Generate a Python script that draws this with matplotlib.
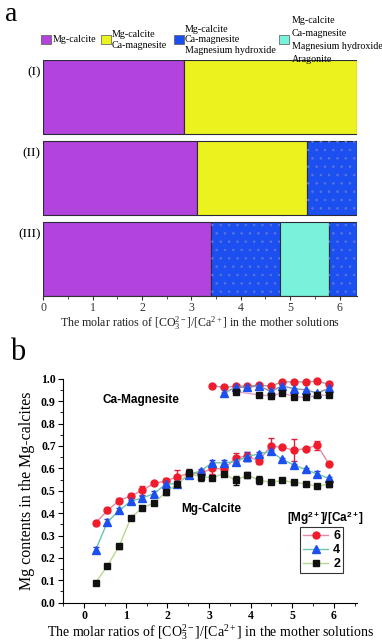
import numpy as np
import matplotlib.pyplot as plt
from matplotlib.patches import Rectangle
from matplotlib.ticker import MultipleLocator

plt.rcParams['font.family'] = ['Liberation Serif', 'DejaVu Serif']
plt.rcParams['mathtext.fontset'] = 'custom'
plt.rcParams['mathtext.rm'] = 'Liberation Serif'
plt.rcParams['mathtext.it'] = 'Liberation Serif:italic'
plt.rcParams['mathtext.bf'] = 'Liberation Sans:bold'
plt.rcParams['hatch.linewidth'] = 0.6

# ---- panel a data ----
row_labels = ['(I)', '(II)', '(III)']
row_edges = [[0, 2.85, 6.35],
             [0, 3.11, 5.34, 6.35],
             [0, 3.40, 4.79, 5.79, 6.35]]
row_phases = [[0, 1], [0, 1, 2], [0, 2, 3, 2]]
phase_names = ['Mg-calcite',
               'Mg-calcite\nCa-magnesite',
               'Mg-calcite\nCa-magnesite\nMagnesium hydroxide',
               'Mg-calcite\nCa-magnesite\nMagnesium hydroxide\nAragonite']
phase_colors = ['#b243dc', '#ecf21e', '#1c4ff0', '#78f2da']

# ---- panel b data ----
ratio = [0.28, 0.56, 0.84, 1.12, 1.40, 1.68, 1.96, 2.24, 2.52, 2.80, 3.08,
         3.36, 3.64, 3.92, 4.20, 4.48, 4.76, 5.04, 5.32, 5.60, 5.88]
mg6_calcite = [0.357, 0.412, 0.456, 0.477, 0.502, 0.533, 0.543, 0.563, 0.577, 0.578, 0.600,
               0.597, 0.647, 0.655, 0.633, 0.700, 0.694, 0.681, 0.688, 0.703, 0.620]
mg6_calcite_err = [0.01, 0.01, 0.012, 0.01, 0.02, 0.008, 0.015, 0.03, 0.012, 0.015, 0.025,
                   0.02, 0.02, 0.02, 0.015, 0.035, 0.005, 0.05, 0.005, 0.02, 0.005]
mg4_calcite = [0.237, 0.360, 0.412, 0.453, 0.468, 0.487, 0.530, 0.532, 0.572, 0.589, 0.625,
               0.625, 0.630, 0.653, 0.665, 0.676, 0.640, 0.615, 0.595, 0.575, 0.555]
mg4_calcite_err = [0.012, 0.012, 0.012, 0.005, 0.008, 0.012, 0.012, 0.01, 0.01, 0.01, 0.012,
                   0.012, 0.012, 0.018, 0.008, 0.008, 0.005, 0.005, 0.005, 0.015, 0.008]
mg2_calcite = [0.090, 0.165, 0.252, 0.378, 0.425, 0.445, 0.493, 0.530, 0.578, 0.562, 0.558,
               0.577, 0.546, 0.570, 0.548, 0.537, 0.546, 0.537, 0.531, 0.520, 0.530]
mg2_calcite_err = [0.005, 0.008, 0.012, 0.005, 0.005, 0.008, 0.012, 0.01, 0.02, 0.018, 0.008,
                   0.012, 0.02, 0.015, 0.02, 0.005, 0.005, 0.012, 0.008, 0.005, 0.015]

ratio_mgs6 = ratio[10:]
mg6_magnesite = [0.969, 0.962, 0.967, 0.967, 0.972, 0.967, 0.987, 0.986, 0.986, 0.990, 0.975]
mg6_magnesite_err = [0.003, 0.004, 0.005, 0.005, 0.01, 0.004, 0.005, 0.004, 0.004, 0.004, 0.008]
ratio_mgs4 = ratio[11:]
mg4_magnesite = [0.937, 0.962, 0.962, 0.969, 0.944, 0.968, 0.956, 0.951, 0.937, 0.957]
mg4_magnesite_err = [0.004, 0.006, 0.008, 0.008, 0.008, 0.005, 0.004, 0.004, 0.005, 0.008]
ratio_mgs2 = [ratio[12]] + ratio[14:]
mg2_magnesite = [0.943, 0.928, 0.924, 0.937, 0.921, 0.917, 0.926, 0.927]
mg2_magnesite_err = [0.004, 0.004, 0.012, 0.004, 0.004, 0.004, 0.006, 0.008]

fig = plt.figure(figsize=(3.82, 6.41), dpi=100)

# ================= panel a =================
ax = fig.add_axes([0.1134, 0.538, 0.8206, 0.368])
ypos = [2, 1, 0]
for r in range(len(row_labels)):
    edges = row_edges[r]
    for s, ph in enumerate(row_phases[r]):
        w = edges[s + 1] - edges[s]
        ax.barh(ypos[r], w, left=edges[s], height=0.91,
                color=phase_colors[ph], edgecolor='#2a2a3a', linewidth=0.8)
        if ph == 2:
            # faint dotted texture on the blue blocks
            ax.barh(ypos[r], w, left=edges[s], height=0.91, facecolor='none',
                    edgecolor='#5a74d8', linewidth=0, hatch='..')
ax.set_xlim(0, 6.35)
ax.set_ylim(-0.455, 2.455)
ax.set_yticks([y + 0.33 for y in ypos])
ax.set_yticklabels(row_labels, fontsize=9.5)
ax.tick_params(axis='y', length=0, pad=2)
for s in ['top', 'right', 'left']:
    ax.spines[s].set_visible(False)
ax.spines['bottom'].set_color('#333333')
ax.spines['bottom'].set_linewidth(0.8)
ax.xaxis.set_major_locator(MultipleLocator(1))
ax.xaxis.set_minor_locator(MultipleLocator(0.5))
ax.tick_params(axis='x', which='major', direction='out', length=3, labelsize=8.5,
               pad=1.5, colors='#333333')
ax.tick_params(axis='x', which='minor', direction='out', length=2, colors='#333333')
ax.set_xlabel('The molar ratios of [CO$_3^{2-}$]/[Ca$^{2+}$] in the mother solutions',
              fontsize=8.6, labelpad=0, color='#222222')

# legend of panel a (built by hand, text beside colored squares)
leg_x = [41, 101, 174, 279]
leg_text_x = [53, 112, 185, 292]
for i in range(4):
    fig.patches.append(Rectangle((leg_x[i] / 382, 1 - 44 / 641), 10 / 382, 9 / 641,
                                 transform=fig.transFigure, facecolor=phase_colors[i],
                                 edgecolor='#555555', linewidth=0.5))
    fig.text(leg_text_x[i] / 382, 1 - 40 / 641, phase_names[i], fontsize=7.2,
             va='center', ha='left', linespacing=1.15 if i < 3 else 1.55)

fig.text(5 / 382, 1 - 21 / 641, 'a', fontsize=20, va='baseline', ha='left')

# ================= panel b =================
bx = fig.add_axes([0.1657, 0.0598, 0.7683, 0.3492])
kw = dict(elinewidth=1.0, capsize=2.2, capthick=1.0, lw=1.0, clip_on=False)
bx.errorbar(ratio, mg6_calcite, yerr=mg6_calcite_err, fmt='-o', color='#e58aa6',
            mfc='#f01c2c', mec='#f01c2c', ecolor='#e0203a', ms=5, label='6', **kw)
bx.errorbar(ratio, mg4_calcite, yerr=mg4_calcite_err, fmt='-^', color='#6cc4ac',
            mfc='#1c4ff0', mec='#1c4ff0', ecolor='#2a3ad8', ms=5.2, label='4', **kw)
bx.errorbar(ratio, mg2_calcite, yerr=mg2_calcite_err, fmt='-s', color='#b8d890',
            mfc='#111111', mec='#111111', ecolor='#111111', ms=4.2, label='2', **kw)
bx.errorbar(ratio_mgs6, mg6_magnesite, yerr=mg6_magnesite_err, fmt='-o', color='#9aa2b2',
            mfc='#f01c2c', mec='#f01c2c', ecolor='#d090b0', ms=5, **kw)
bx.errorbar(ratio_mgs4, mg4_magnesite, yerr=mg4_magnesite_err, fmt='-^', color='#8894a4',
            mfc='#1c4ff0', mec='#1c4ff0', ecolor='#7080c0', ms=5.2, **kw)
bx.errorbar(ratio_mgs2, mg2_magnesite, yerr=mg2_magnesite_err, fmt='-s', color='#e0a0c4',
            mfc='#111111', mec='#111111', ecolor='#90a0a8', ms=4.2, **kw)

bx.set_xlim(-0.5, 6.55)
bx.set_ylim(0, 1.0)
for s in ['top', 'right']:
    bx.spines[s].set_visible(False)
bx.xaxis.set_major_locator(MultipleLocator(1))
bx.xaxis.set_minor_locator(MultipleLocator(0.5))
bx.yaxis.set_major_locator(MultipleLocator(0.1))
bx.yaxis.set_minor_locator(MultipleLocator(0.05))
bx.tick_params(which='major', direction='out', length=3.5, labelsize=8.5, pad=2)
bx.tick_params(which='minor', direction='out', length=2)
for t in bx.get_xticklabels() + bx.get_yticklabels():
    t.set_fontweight('bold')
bx.set_xlabel('The molar ratios of [CO$_3^{2-}$]/[Ca$^{2+}$] in the mother solutions',
              fontsize=10, labelpad=0)
bx.set_ylabel('Mg contents in the Mg-calcites', fontsize=11.5, labelpad=4)

bx.text(1.37, 0.905, 'Ca-Magnesite', fontsize=8.5, fontweight='bold',
        family='Liberation Sans', ha='center', va='center')
bx.text(3.05, 0.418, 'Mg-Calcite', fontsize=8.5, fontweight='bold',
        family='Liberation Sans', ha='center', va='center')

handles, labels = bx.get_legend_handles_labels()
hs = [h[0] for h in handles]
leg = bx.legend(hs, labels, loc='upper left', bbox_to_anchor=(300 / 382, 1 - 527 / 641),
                bbox_transform=fig.transFigure, frameon=True, fancybox=False,
                edgecolor='black', borderpad=0.25, handlelength=2.0, handletextpad=0.4,
                labelspacing=0.15, borderaxespad=0,
                prop={'family': 'Liberation Sans', 'weight': 'bold', 'size': 9})
leg.get_frame().set_linewidth(0.8)
fig.text(325 / 382, 1 - 518 / 641, r'[Mg$^{\mathbf{2+}}$]/[Ca$^{\mathbf{2+}}$]',
         fontsize=8.5, fontweight='bold', family='Liberation Sans', ha='center',
         va='center')

fig.text(10 / 382, 1 - 352 / 641, 'b', fontsize=22, va='center', ha='left')

fig.savefig('out.png', dpi=100)
